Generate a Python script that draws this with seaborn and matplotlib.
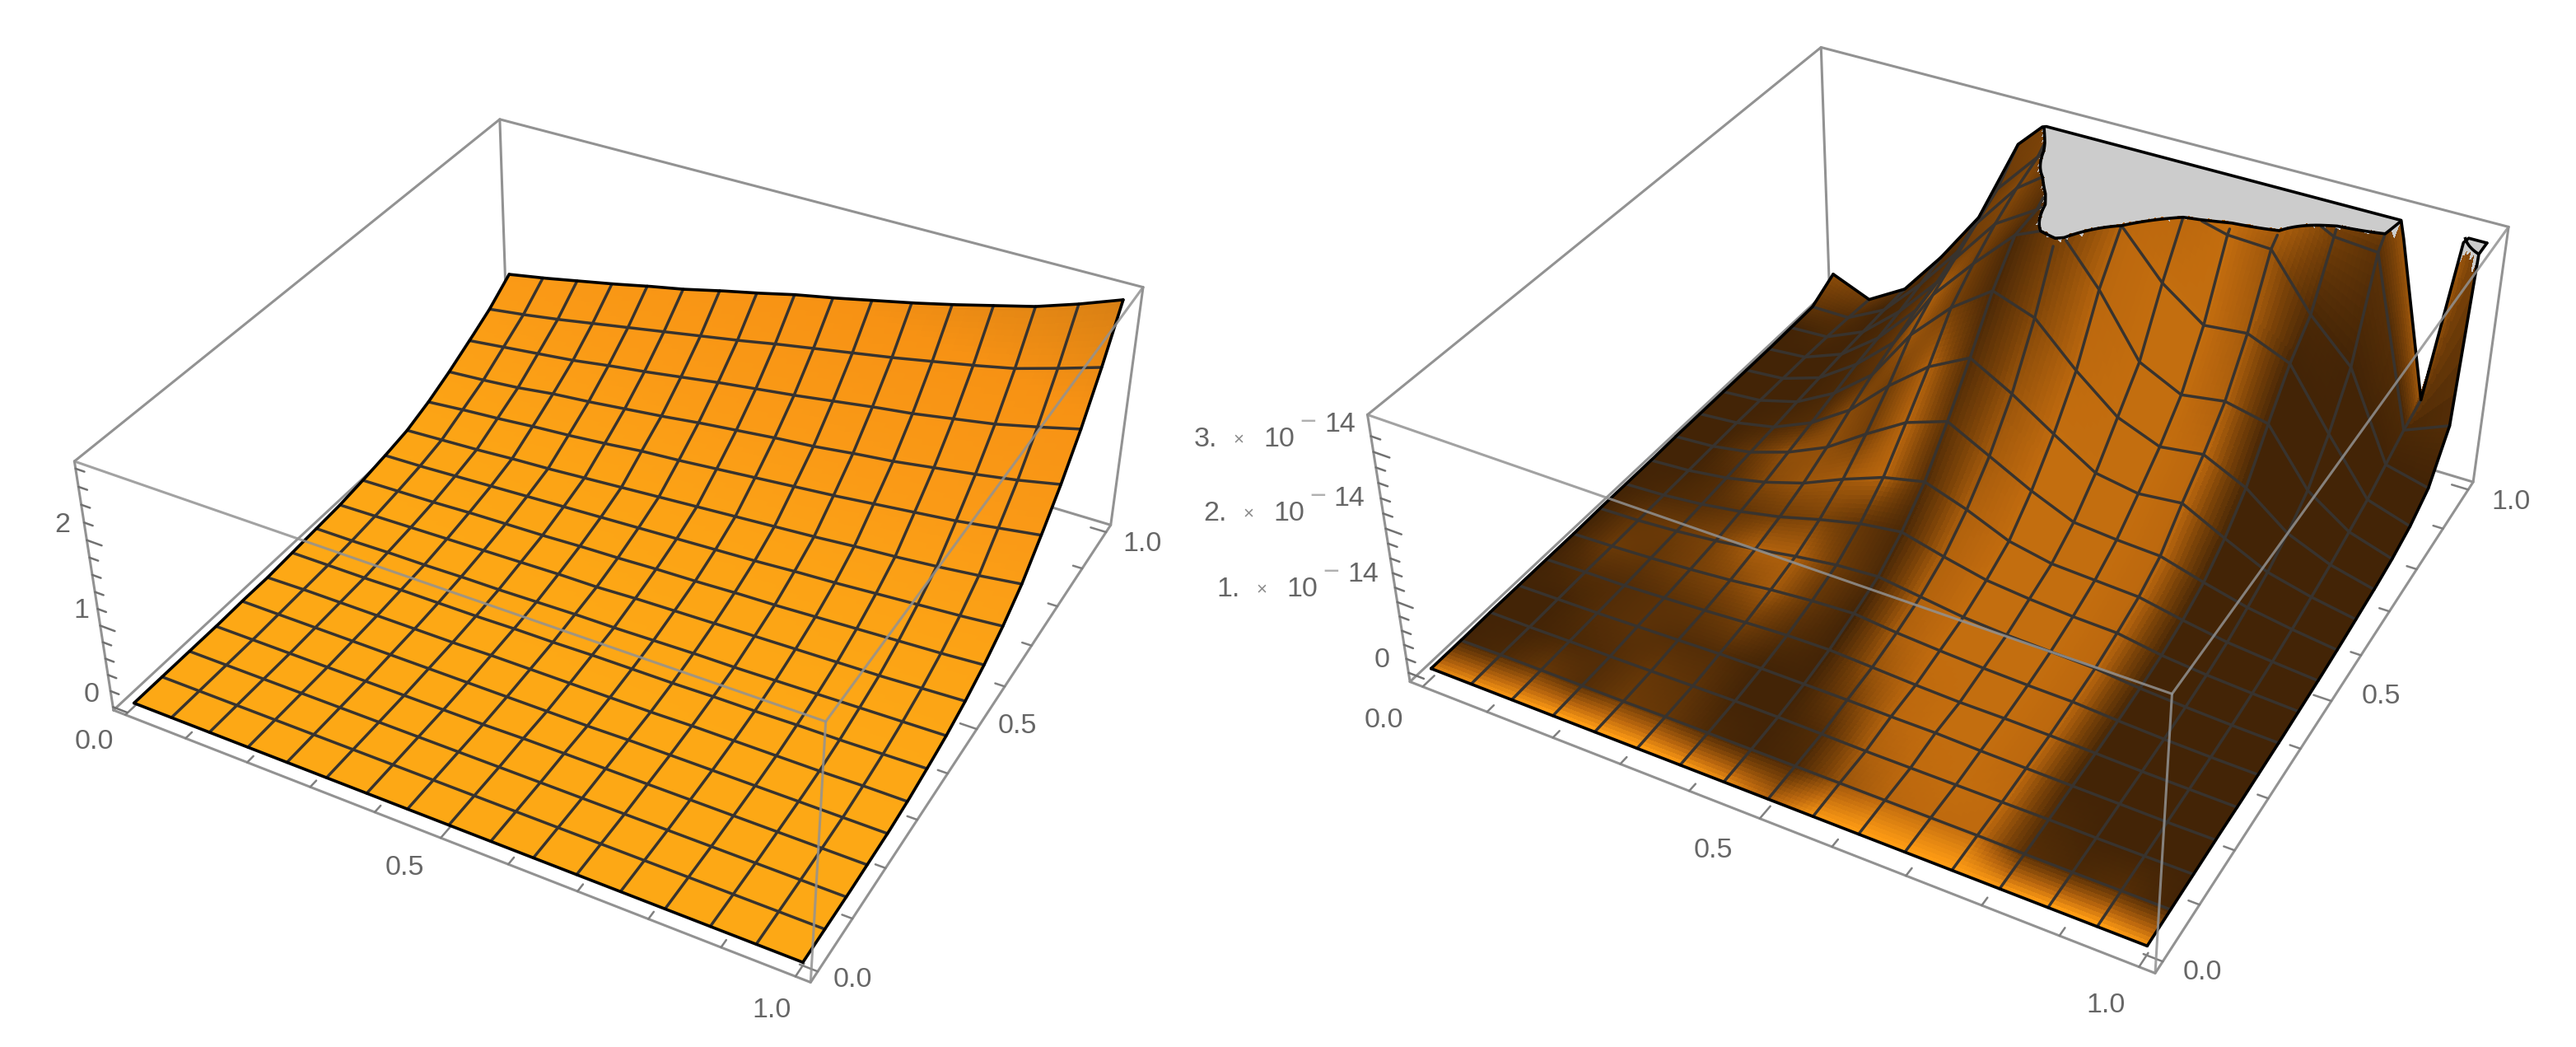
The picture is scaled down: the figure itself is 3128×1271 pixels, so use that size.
import numpy as np
import seaborn as sns
import matplotlib
matplotlib.use("Agg")
import matplotlib.pyplot as plt
from mpl_toolkits.mplot3d import proj3d

# node positions of the 17 x 17 mesh
mesh_x = [i / 16 for i in range(17)]
mesh_y = [i / 16 for i in range(17)]

# left surface heights, rows are y=0..1, columns x=0..1
left_z = [
    [0]*17,
    [0]*17,
    [0]*17,
    [.00,.00,.00,.00,.00,.00,.00,.00,.01,.01,.01,.01,.01,.01,.01,.01,.01],
    [.01,.01,.01,.01,.01,.01,.01,.01,.01,.01,.02,.02,.02,.02,.02,.02,.02],
    [.01,.02,.02,.02,.02,.02,.03,.03,.03,.03,.03,.04,.04,.04,.04,.05,.05],
    [.03,.03,.03,.04,.04,.04,.05,.05,.06,.06,.06,.07,.07,.08,.08,.09,.10],
    [.05,.05,.06,.06,.07,.07,.08,.09,.09,.10,.11,.11,.12,.13,.14,.15,.16],
    [.07,.08,.09,.10,.11,.12,.13,.13,.15,.16,.17,.18,.19,.20,.21,.23,.25],
    [.11,.12,.13,.15,.16,.17,.19,.20,.22,.23,.25,.26,.28,.30,.32,.34,.37],
    [.16,.17,.19,.21,.23,.25,.27,.29,.31,.33,.35,.38,.40,.43,.46,.49,.53],
    [.22,.24,.26,.29,.31,.34,.37,.40,.43,.46,.49,.52,.56,.59,.63,.68,.74],
    [.33,.37,.40,.44,.47,.51,.56,.59,.63,.67,.71,.75,.80,.85,.90,.97,1.04],
    [.47,.50,.54,.60,.64,.69,.74,.80,.85,.90,.94,1.00,1.05,1.12,1.19,1.27,1.37],
    [.63,.68,.73,.78,.85,.91,.98,1.05,1.11,1.17,1.24,1.31,1.37,1.45,1.53,1.64,1.76],
    [.80,.86,.93,1.01,1.09,1.17,1.25,1.33,1.42,1.50,1.58,1.66,1.75,1.84,1.94,2.08,2.23],
    [1.02,1.10,1.19,1.28,1.38,1.47,1.58,1.68,1.79,1.88,1.98,2.08,2.19,2.31,2.43,2.59,2.77],
]

# right surface heights in units of 1e-14, one list per x column, each from y=0 to y=1
# values over right_clip are cut off flat
right_z_columns = [
    [0,0,.01,.01,.01,.01,.02,.02,.02,.03,.03,.03,.03,.03,.04,.05,.25],
    [0,.01,.01,.02,.03,.03,.04,.05,.06,.07,.08,.08,.08,.08,.07,.05,.02],
    [0,.01,.02,.03,.04,.06,.08,.11,.14,.17,.20,.24,.27,.30,.32,.34,.35],
    [0,.01,.02,.05,.07,.10,.14,.20,.27,.36,.45,.55,.65,.72,.80,.90,1.0],
    [0,.01,.03,.07,.10,.15,.22,.32,.45,.62,.82,1.0,1.15,1.30,1.40,1.55,1.75],
    [0,.02,.04,.09,.14,.22,.32,.48,.70,1.0,1.35,1.75,2.0,2.2,2.4,2.6,2.95],
    [0,.02,.05,.10,.17,.27,.40,.62,.92,1.35,1.80,2.3,2.6,2.85,3.05,3.2,3.5],
    [0,.02,.05,.10,.18,.30,.44,.70,1.05,1.55,2.1,2.7,3.15,3.2,3.45,3.9,4.0],
    [0,.02,.04,.10,.15,.24,.36,.55,.85,1.25,1.78,2.5,3.4,3.7,3.9,4.0,4.0],
    [0,.02,.03,.09,.12,.20,.28,.42,.60,.95,1.40,1.95,2.74,3.3,3.8,4.0,4.0],
    [0,.02,.03,.09,.10,.17,.24,.36,.48,.70,1.04,1.48,1.92,2.69,3.35,3.9,4.0],
    [0,.02,.03,.07,.10,.15,.22,.32,.45,.65,.94,1.25,1.64,2.28,3.2,3.7,4.0],
    [0,.02,.03,.06,.09,.14,.20,.30,.42,.62,1.0,1.33,1.73,2.34,3.17,3.5,4.0],
    [0,.01,.03,.05,.07,.10,.14,.20,.30,.45,.70,1.05,1.6,2.1,2.45,3.2,3.9],
    [0,.01,.02,.04,.05,.07,.10,.14,.20,.30,.42,.60,.85,1.3,1.9,3.15,3.6],
    [0,.01,.02,.03,.04,.05,.07,.10,.14,.20,.27,.35,.45,.55,.70,.85,.95],
    [0,.01,.02,.03,.03,.04,.05,.07,.09,.12,.16,.20,.26,.36,.55,1.1,5.5],
]
right_clip = 3.3

# how lit each mesh node of the right surface is, 0 dark brown, 1 bright orange
right_light = [
    [.80,.90,.95,1,1,1,.95,.85,.60,.95,1,1,1,.95,1,1,.90],
    [0,.05,.20,.10,.25,.20,.05,0,.05,.50,.65,.68,.68,.10,.05,.10,0],
    [0,0,.05,.10,.20,.15,0,0,.10,.60,.68,.70,.68,.05,0,0,0],
    [0,0,.10,.15,.10,.10,0,0,.30,.66,.70,.70,.66,0,0,0,0],
    [0,.10,.10,.15,.20,.30,.10,0,.50,.68,.70,.70,.66,0,0,0,0],
    [0,.25,.20,.30,.40,.55,.20,0,.60,.70,.70,.70,.66,0,0,0,0],
    [0,.20,.25,.35,.60,.60,.25,.05,.62,.70,.70,.70,.66,0,0,0,0],
    [0,.05,.10,.20,.30,.35,.20,.05,.62,.70,.70,.70,.66,0,0,0,0],
    [0,0,.10,.40,.50,.55,.65,.10,.60,.70,.70,.70,.66,0,0,0,0],
    [0,0,.20,.45,.45,.30,.65,.15,.55,.70,.70,.70,.66,0,0,0,0],
    [0,0,.05,.10,.40,.30,.60,.10,.50,.70,.70,.70,.66,0,0,0,0],
    [0,0,0,.05,.15,.55,.30,.05,.40,.68,.70,.70,.66,0,0,0,0],
    [0,0,0,.05,.20,.60,.30,.05,.30,.66,.70,.70,.60,0,0,0,0],
    [0,0,0,.05,.20,.25,.35,.10,.25,.66,.70,.70,.55,0,0,0,0],
    [0,.05,0,.05,.15,.30,.40,.15,.30,.66,.66,.70,.50,.05,0,0,0],
    [.20,.10,0,.05,.10,.25,.35,.40,.50,.66,.66,.70,.66,.30,.15,.05,.10],
    [.45,.25,.10,.15,.20,.30,.35,.50,.60,.66,.66,.70,.60,.66,.55,.60,.60],
]

# tick values
xy_ticks = [0.0, 0.1, 0.2, 0.3, 0.4, 0.5, 0.6, 0.7, 0.8, 0.9, 1.0]
xy_labels = {0.0: "0.0", 0.5: "0.5", 1.0: "1.0"}
left_z_ticks = [0, .2, .4, .6, .8, 1, 1.2, 1.4, 1.6, 1.8, 2, 2.2, 2.4, 2.6, 2.8]
right_z_ticks = [i / 5 for i in range(0, 17)]
left_z_labels = {0: "0", 1: "1", 2: "2"}
right_z_labels = {0: "0", 1: "1.", 2: "2.", 3: "3."}

W, H = 3128, 1271
TEXT = "#666666"
FS = 24.5

sns.set_theme(style="white")
plt.rcParams["font.family"] = ["Liberation Sans", "DejaVu Sans"]

left_cmap = sns.blend_palette(["#FDA815", "#FA9A16", "#F79214", "#D67E14"], as_cmap=True)
right_cmap = sns.blend_palette(["#432406", "#7A4208", "#BC680E", "#FF9C14"], as_cmap=True)
GREY_CAP = (0.8, 0.8, 0.8, 1.0)
STEP = 10


def refine(table, n=STEP):
    # finer vertices between the mesh nodes, only for smooth colour on screen
    table = np.asarray(table, float)
    old = np.arange(table.shape[0])
    new = np.linspace(0, table.shape[0] - 1, (table.shape[0] - 1) * n + 1)
    rows = np.array([np.interp(new, old, r) for r in table])
    return np.array([np.interp(new, old, c) for c in rows.T]).T


def box_lines(ax, pts, zorder, alpha=1.0):
    pts = np.array(pts)
    ax.plot(pts[:, 0], pts[:, 1], pts[:, 2], color="#929292", lw=2.2, alpha=alpha,
            zorder=zorder, clip_on=False)


def draw_panel(pos, elev, azim, roll, focal, za, zlim, z_table, colors, clip,
               z_ticks, z_labels, x_off, y_off, z_off, long_z):
    ax = fig.add_axes(pos, projection="3d", computed_zorder=False)
    ax.apply_aspect = lambda position=None: None
    ax.set_position(pos)
    ax.view_init(elev, azim, roll)
    ax.set_proj_type("persp", focal_length=focal)
    ax.set_box_aspect((1, 1, za))
    x0, x1, y0, y1 = -0.02, 1.02, -0.02, 1.02
    ax.set_xlim(x0, x1)
    ax.set_ylim(y0, y1)
    ax.set_zlim(*zlim)
    ax.set_axis_off()
    ax.patch.set_visible(False)
    z0, z1 = zlim

    # box edges behind the surface
    box_lines(ax, [(x0, y0, z0), (x0, y1, z0), (x1, y1, z0)], 1)
    box_lines(ax, [(x0, y1, z0), (x0, y1, z1)], 1)
    box_lines(ax, [(x0, y0, z1), (x0, y1, z1), (x1, y1, z1)], 1)
    box_lines(ax, [(x0, y0, z0), (x1, y0, z0), (x1, y1, z0), (x1, y1, z1)], 1)
    box_lines(ax, [(x0, y0, z0), (x0, y0, z1)], 1)

    xf = refine(np.tile(mesh_x, (17, 1)))
    yf = refine(np.tile(mesh_y, (17, 1)).T)
    zf = refine(z_table)
    zc = np.minimum(zf, clip)
    col = colors[:-1, :-1].copy()
    cell = (zf[:-1, :-1] + zf[1:, :-1] + zf[:-1, 1:] + zf[1:, 1:]) / 4
    col[cell >= clip] = GREY_CAP
    surf = ax.plot_surface(xf, yf, zc, facecolors=col, rstride=1, cstride=1, shade=False,
                           linewidth=0, antialiased=False, zorder=2, clip_on=False)
    # same colour on the cell edges closes the small gaps between cells
    surf.set_edgecolor(col.reshape(-1, 4))
    surf.set_linewidth(0.6)

    # mesh lines
    zm = np.where(zf > clip, np.nan, zf)
    for k in range(1, 16):
        i = k * STEP
        ax.plot(xf[i], yf[i], zm[i], color="#38332e", lw=2.5, zorder=3, clip_on=False)
        ax.plot(xf[:, i], yf[:, i], zm[:, i], color="#38332e", lw=2.5, zorder=3, clip_on=False)

    # black outline of the surface
    for xe, ye, ze in ((xf[0], yf[0], zc[0]), (xf[-1], yf[-1], zc[-1]),
                       (xf[:, 0], yf[:, 0], zc[:, 0]), (xf[:, -1], yf[:, -1], zc[:, -1])):
        ax.plot(xe, ye, ze, color="black", lw=2.6, zorder=4, clip_on=False)
    if zf.max() > clip:
        ax.contour(xf, yf, zf, levels=[clip], zdir="z", offset=clip, colors="black",
                   linewidths=2.6, zorder=4)

    # box edges in front of the surface
    box_lines(ax, [(x0, y0, z1), (x1, y0, z1), (x1, y1, z1)], 5, 0.85)
    box_lines(ax, [(x1, y0, z0), (x1, y0, z1)], 5, 0.85)

    # ticks
    for t in xy_ticks:
        ln = 0.024 if t in xy_labels else 0.014
        ax.plot([t, t], [y0, y0 + ln], [z0, z0], color="#808080", lw=1.8, zorder=1, clip_on=False)
        ax.plot([x1, x1 - ln], [t, t], [z0, z0], color="#808080", lw=1.8, zorder=1, clip_on=False)
    for t in z_ticks:
        ln = 0.024 if t in z_labels else 0.014
        ax.plot([x0, x0 + ln], [y0, y0], [t, t], color="#707070", lw=1.8, zorder=1, clip_on=False)

    # tick labels, offset in pixels from the tick
    M = ax.get_proj()

    def label(x, y, z, s, off, ha="center", size=FS, color=TEXT):
        px, py, _ = proj3d.proj_transform(x, y, z, M)
        ax.annotate(s, (px, py), xytext=(off[0], -off[1]), textcoords="offset pixels",
                    ha=ha, va="center", fontsize=size, color=color, annotation_clip=False)

    for t, off in zip(xy_labels, x_off):
        label(t, y0, z0, xy_labels[t], off)
    for t, off in zip(xy_labels, y_off):
        label(x1, t, z0, xy_labels[t], off)
    for t, off in zip(z_labels, z_off):
        if long_z and t != 0:
            # mantissa, small times sign, ten, then a raised -14, measured back from the right end
            label(x0, y0, t, z_labels[t], (off[0] - 168, off[1]), "right")
            label(x0, y0, t, "\u00d7", (off[0] - 142, off[1]), "center", 16, "#8a8a8a")
            label(x0, y0, t, "10", (off[0] - 73, off[1]), "right")
            label(x0, y0, t, "\u2212", (off[0] - 57, off[1] - 20), "center", FS, "#b0b0b0")
            label(x0, y0, t, "14", (off[0], off[1] - 18), "right")
        else:
            label(x0, y0, t, z_labels[t], off)
    return ax


fig = plt.figure(figsize=(W / 100, H / 100), dpi=100, facecolor="white")

left_rgba = left_cmap(np.clip(refine(left_z) / 2.77, 0, 1))
draw_panel([0.03086, -0.00459, 0.42022, 1.03419], 36.044, -61.561, -0.019, 0.439, 0.3958,
           (-0.04, 2.88), left_z, left_rgba, 99.0, left_z_ticks, left_z_labels,
           [(-38, 33), (-44, 36), (-29, 41)], [(42, 10), (49, -4), (44, 15)],
           [(-26, -15), (-23, -18), (-30, -18)], False)

right_z = np.array(right_z_columns).T
right_rgba = right_cmap(refine(right_light))
draw_panel([0.53301, 0.00180, 0.44886, 1.10467], 36.269, -61.708, -0.054, 0.435, 0.3989,
           (-0.13, 3.47), right_z, right_rgba, right_clip, right_z_ticks, right_z_labels,
           [(-47, 41), (-56, 39), (-40, 47)], [(48, 13), (60, -6), (52, 15)],
           [(-32, -15), (-23, -15), (-25, -18), (-22, -15)], True)

fig.savefig("out.png", dpi=100)
